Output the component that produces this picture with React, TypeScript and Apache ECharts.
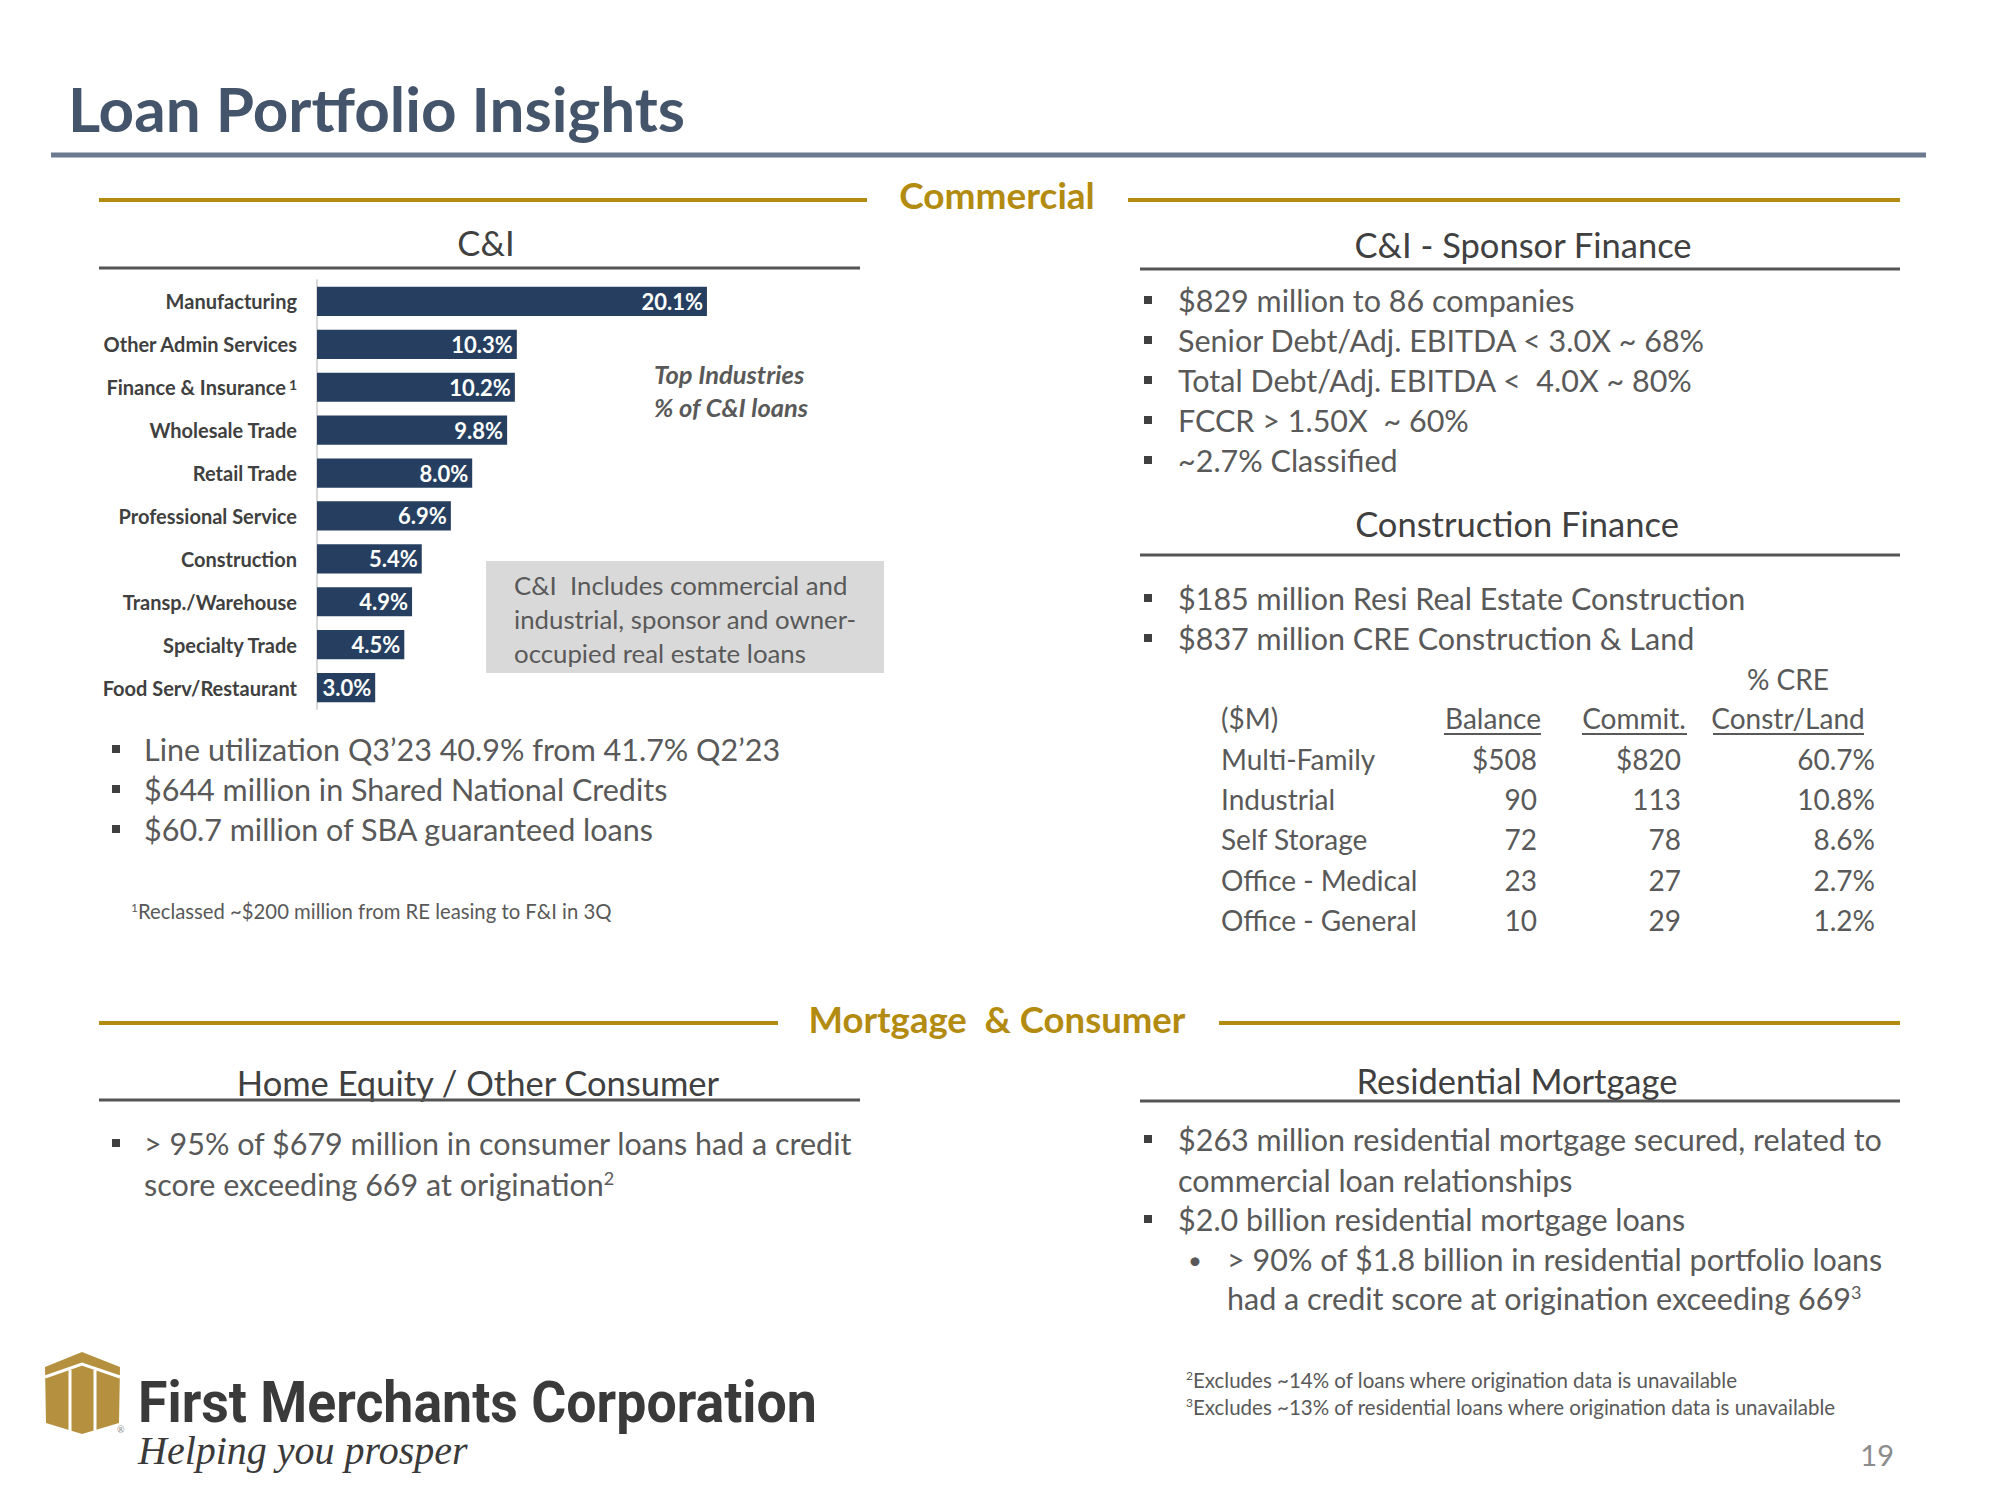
import React, { useEffect, useRef } from 'react';
import * as echarts from 'echarts';

const industries = ['Manufacturing', 'Other Admin Services', 'Finance & Insurance', 'Wholesale Trade', 'Retail Trade', 'Professional Service', 'Construction', 'Transp./Warehouse', 'Specialty Trade', 'Food Serv/Restaurant'];
const industryShares = [20.1, 10.3, 10.2, 9.8, 8.0, 6.9, 5.4, 4.9, 4.5, 3.0];

const ciBullets = ['Line utilization Q3\u201923 40.9% from 41.7% Q2\u201923', '$644 million in Shared National Credits', '$60.7 million of SBA guaranteed loans'];
const sponsorBullets = ['$829 million to 86 companies', 'Senior Debt/Adj. EBITDA < 3.0X ~ 68%', 'Total Debt/Adj. EBITDA <  4.0X ~ 80%', 'FCCR > 1.50X  ~ 60%', '~2.7% Classified'];
const constructionBullets = ['$185 million Resi Real Estate Construction', '$837 million CRE Construction & Land'];
const tableHeaders = ['($M)', 'Balance', 'Commit.', 'Constr/Land'];
const propertyTypes = ['Multi-Family', 'Industrial', 'Self Storage', 'Office - Medical', 'Office - General'];
const balances = ['$508', '90', '72', '23', '10'];
const commitments = ['$820', '113', '78', '27', '29'];
const creShares = ['60.7%', '10.8%', '8.6%', '2.7%', '1.2%'];

const GOLD = '#B38B10';
const TITLE = '#44546A';
const BAR = '#263F61';
const TEXT = '#595959';
const HEAD = '#404040';
const FONT = 'Lato';
const BODY = 30.5;

function txt(x: number, y: number, text: string, o: any = {}) {
  const { scaleX, ...style } = o;
  const el: any = {
    type: 'text', x, y,
    style: { text, fill: TEXT, fontSize: BODY, fontFamily: FONT, verticalAlign: 'middle', align: 'left', ...style },
  };
  if (scaleX) el.scaleX = scaleX;
  return el;
}
function sq(x: number, y: number) {
  return { type: 'rect', shape: { x: x - 4, y: y - 4, width: 8, height: 8 }, style: { fill: '#404040' } };
}
function hline(x1: number, x2: number, y: number, color: string, w: number) {
  return { type: 'line', shape: { x1, y1: y, x2, y2: y }, style: { stroke: color, lineWidth: w } };
}
const sup = (size: number) => ({ sup: { fontSize: size, verticalAlign: 'top', fill: TEXT, fontFamily: FONT } });

export default function App() {
  const ref = useRef<HTMLDivElement>(null);
  useEffect(() => {
    const chart = echarts.init(ref.current!, undefined, { renderer: 'svg' });
    const g: any[] = [];
    // title
    g.push(txt(68, 108, 'Loan Portfolio Insights', { fill: TITLE, fontSize: 62, fontWeight: 'bold' }));
    g.push(hline(51, 1926, 155, '#6B7A8F', 5));
    // section headings
    g.push(txt(997, 194, 'Commercial', { fill: GOLD, fontSize: 37, fontWeight: 'bold', align: 'center' }));
    g.push(hline(99, 867, 200, GOLD, 4));
    g.push(hline(1128, 1900, 200, GOLD, 4));
    g.push(txt(997, 1019, 'Mortgage  & Consumer', { fill: GOLD, fontSize: 36.5, fontWeight: 'bold', align: 'center' }));
    g.push(hline(99, 778, 1023, GOLD, 4));
    g.push(hline(1219, 1900, 1023, GOLD, 4));
    // sub-headings
    const subs: [number, number, string, number, number][] = [
      [486, 242, 'C&I', 99, 860],
      [1523, 244, 'C&I - Sponsor Finance', 1140, 1900],
      [1517, 523, 'Construction Finance', 1140, 1900],
      [478, 1082, 'Home Equity / Other Consumer', 99, 860],
      [1517, 1080, 'Residential Mortgage', 1140, 1900],
    ];
    const lineY = [268, 269, 555, 1100, 1101];
    subs.forEach((s, i) => {
      g.push(txt(s[0], s[1], s[2], { fill: HEAD, fontSize: 34.5, align: 'center' }));
      g.push(hline(s[3], s[4], lineY[i], '#555555', 3));
    });
    // chart annotations
    g.push(txt(654, 374, 'Top Industries', { fill: TEXT, fontSize: 25.5, fontWeight: 'bold', fontStyle: 'italic' }));
    g.push(txt(654, 407, '% of C&I loans', { fill: TEXT, fontSize: 25.5, fontWeight: 'bold', fontStyle: 'italic' }));
    g.push({ type: 'rect', shape: { x: 486, y: 561, width: 398, height: 112 }, style: { fill: '#D9D9D9' } });
    ['C&I  Includes commercial and', 'industrial, sponsor and owner-', 'occupied real estate loans'].forEach((t, i) =>
      g.push(txt(514, 585 + i * 34, t, { fontSize: 25.8 })));
    // C&I bullets
    ciBullets.forEach((t, i) => { g.push(sq(116, 749 + i * 40)); g.push(txt(144, 749 + i * 40, t)); });
    g.push(txt(131, 911, '{sup|1}Reclassed ~$200 million from RE leasing to F&I in 3Q', { fontSize: 20.3, rich: sup(12) }));
    // sponsor bullets
    sponsorBullets.forEach((t, i) => { g.push(sq(1148, 300 + i * 40)); g.push(txt(1178, 300 + i * 40, t)); });
    constructionBullets.forEach((t, i) => { g.push(sq(1148, 598 + i * 40)); g.push(txt(1178, 598 + i * 40, t)); });
    // table
    const TF = 28;
    g.push(txt(1788, 679, '% CRE', { fontSize: TF, align: 'center' }));
    const hdrX = [1221, 1493, 1634, 1788];
    const hdrAlign = ['left', 'center', 'center', 'center'];
    tableHeaders.forEach((h, i) => g.push(txt(hdrX[i], 718, h, { fontSize: TF, align: hdrAlign[i] })));
    g.push(hline(1444, 1541, 734, TEXT, 2));
    g.push(hline(1582, 1687, 734, TEXT, 2));
    g.push(hline(1713, 1864, 734, TEXT, 2));
    propertyTypes.forEach((p, i) => {
      const y = 759 + i * 40.2;
      g.push(txt(1221, y, p, { fontSize: TF }));
      g.push(txt(1537, y, balances[i], { fontSize: TF, align: 'right' }));
      g.push(txt(1681, y, commitments[i], { fontSize: TF, align: 'right' }));
      g.push(txt(1875, y, creShares[i], { fontSize: TF, align: 'right' }));
    });
    // home equity
    g.push(sq(116, 1143));
    g.push(txt(144, 1143, '> 95% of $679 million in consumer loans had a credit'));
    g.push(txt(144, 1184, 'score exceeding 669 at origination{sup|2}', { rich: sup(18) }));
    // residential
    g.push(sq(1148, 1139));
    g.push(txt(1178, 1139, '$263 million residential mortgage secured, related to'));
    g.push(txt(1178, 1180, 'commercial loan relationships'));
    g.push(sq(1148, 1219));
    g.push(txt(1178, 1219, '$2.0 billion residential mortgage loans'));
    g.push(txt(1195, 1259, '\u2022', { fontSize: 24, align: 'center' }));
    g.push(txt(1227, 1259, '> 90% of $1.8 billion in residential portfolio loans'));
    g.push(txt(1227, 1298, 'had a credit score at origination exceeding 669{sup|3}', { rich: sup(18) }));
    g.push(txt(1186, 1380, '{sup|2}Excludes ~14% of loans where origination data is unavailable', { fontSize: 20.5, rich: sup(12) }));
    g.push(txt(1186, 1407, '{sup|3}Excludes ~13% of residential loans where origination data is unavailable', { fontSize: 20.5, rich: sup(12) }));
    g.push(txt(1894, 1454, '19', { fontSize: 29, align: 'right', fill: '#8C8C8C' }));
    // logo
    const LG = '#B5913F';
    g.push({ type: 'polygon', shape: { points: [[82, 1352], [120, 1367], [119, 1423], [82, 1434], [46, 1423], [45, 1367]] }, style: { fill: LG } });
    g.push({ type: 'polyline', shape: { points: [[45, 1377], [82, 1364], [120, 1377]] }, style: { stroke: '#fff', lineWidth: 3, fill: 'none' } });
    g.push({ type: 'line', shape: { x1: 70, y1: 1370, x2: 70, y2: 1432 }, style: { stroke: '#fff', lineWidth: 3 } });
    g.push({ type: 'line', shape: { x1: 95, y1: 1370, x2: 95, y2: 1432 }, style: { stroke: '#fff', lineWidth: 3 } });
    g.push(txt(117, 1429, '\u00AE', { fontSize: 9, fill: '#8C8C8C' }));
    g.push(txt(138, 1402, 'First Merchants Corporation', { fill: '#3A3A3A', fontSize: 58, fontWeight: 'bold', fontFamily: 'Roboto', scaleX: 0.925 }));
    g.push(txt(138, 1450, 'Helping you prosper', { fill: '#3A3A3A', fontSize: 40, fontStyle: 'italic', fontFamily: 'Liberation Serif' }));

    chart.setOption({
      animation: false,
      backgroundColor: '#ffffff',
      grid: { left: 317, top: 280, width: 582, height: 429 },
      xAxis: { type: 'value', min: 0, max: 30, show: false },
      yAxis: {
        type: 'category', data: industries, inverse: true,
        axisLine: { show: true, lineStyle: { color: '#D9D9D9', width: 2 } },
        axisTick: { show: false },
        axisLabel: {
          margin: 20, color: HEAD, fontSize: 20, fontWeight: 'bold', fontFamily: FONT,
          formatter: (v: string) => (v === 'Finance & Insurance' ? v + '{sup|1}' : v),
          rich: { sup: { fontSize: 14, verticalAlign: 'top', color: HEAD, fontFamily: FONT, padding: [0, 0, 0, 3] } },
        },
      },
      series: [{
        type: 'bar', data: industryShares, barCategoryGap: '32%',
        itemStyle: { color: BAR },
        label: {
          show: true, position: 'insideRight', distance: 4, color: '#fff', fontSize: 22, fontWeight: 'bold', fontFamily: FONT,
          formatter: (p: any) => p.value.toFixed(1) + '%',
        },
      }],
      graphic: { elements: g },
    });
    return () => chart.dispose();
  }, []);
  return <div ref={ref} style={{ position: 'absolute', left: 0, top: 0, width: 2000, height: 1500 }} />;
}
